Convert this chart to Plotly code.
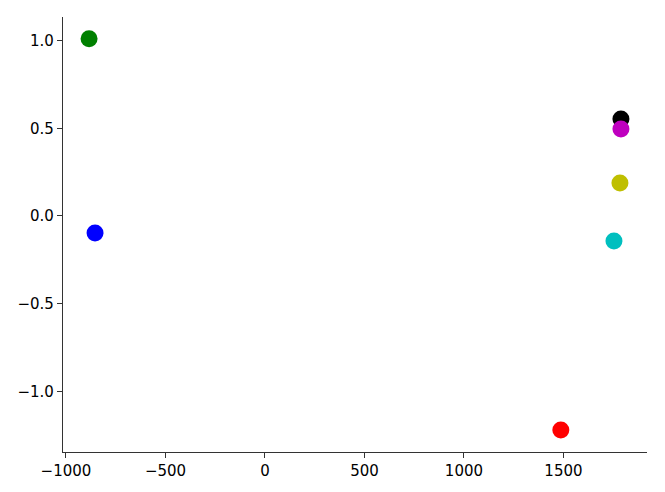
import plotly.graph_objects as go

# points
xs = [-884, -854, 1487, 1754, 1784, 1789, 1789]
ys = [1.01, -0.097, -1.219, -0.142, 0.188, 0.553, 0.496]
colors = ["#008000", "#0000ff", "#ff0000", "#00bfbf", "#bfbf00", "#000000", "#bf00bf"]

x_ticks = [-1000, -500, 0, 500, 1000, 1500]
y_ticks = [-1.0, -0.5, 0.0, 0.5, 1.0]
y_labels = ["\u22121.0", "\u22120.5", "0.0", "0.5", "1.0"]

_FONT = dict(family="DejaVu Sans", size=15, color="#000000")
_AX = dict(showgrid=False, zeroline=False, showline=True, linecolor="#333333",
           linewidth=1.3, ticks="outside", ticklen=5, tickwidth=1.2,
           tickcolor="#333333", tickfont=_FONT, mirror=False, automargin=False)

fig = go.Figure(go.Scatter(
    x=xs, y=ys, mode="markers",
    marker=dict(color=colors, size=17, opacity=1.0, line=dict(width=0)),
    showlegend=False,
))
# page body adds an 8px offset, so margins are shifted by that
fig.update_layout(
    width=665, height=492, paper_bgcolor="white", plot_bgcolor="white",
    margin=dict(l=55, r=26, t=9, b=48),
    xaxis=dict(range=[-1015, 1920], tickvals=x_ticks,
               ticktext=[str(v).replace("-", "\u2212") for v in x_ticks], **_AX),
    yaxis=dict(range=[-1.345, 1.134], tickvals=y_ticks, ticktext=y_labels, **_AX),
)
fig.write_html("out.html")
